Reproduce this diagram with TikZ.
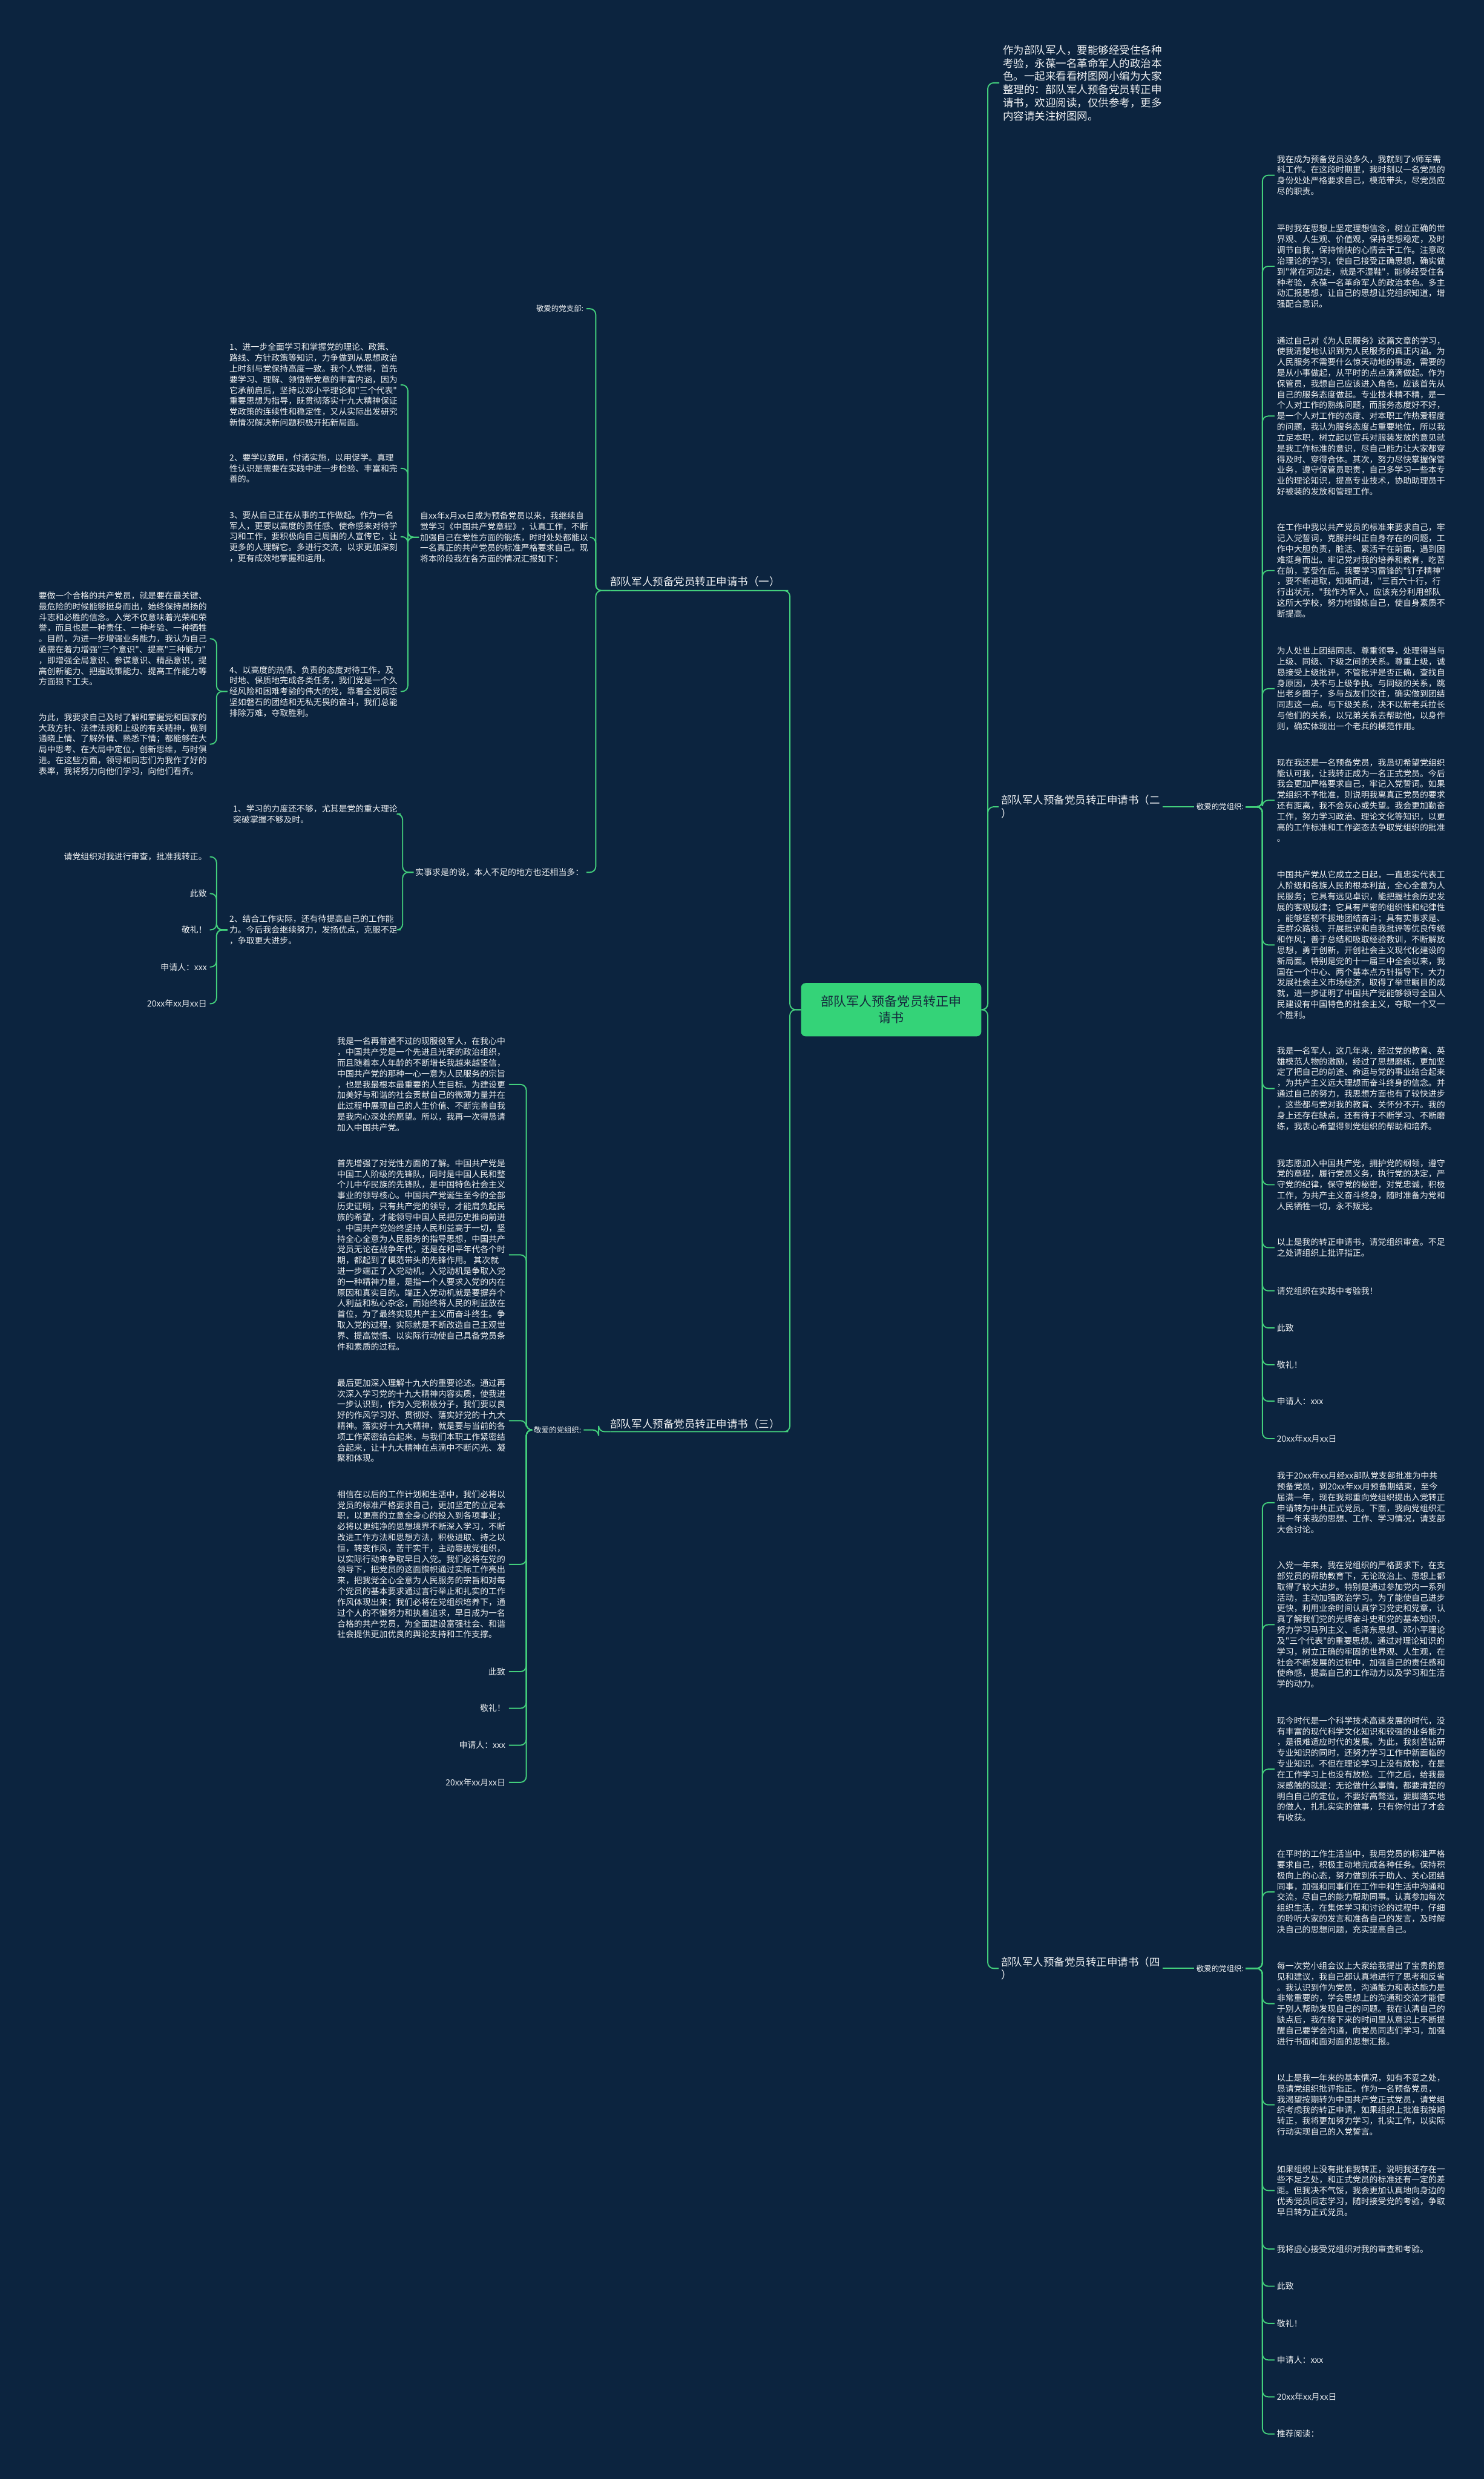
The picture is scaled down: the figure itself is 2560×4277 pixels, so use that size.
\documentclass[tikz,border=0pt]{standalone}
\usepackage{fontspec}
\newfontfamily\cjk{Noto Sans CJK SC}
\definecolor{bg}{RGB}{12,36,63}
\definecolor{ln}{RGB}{67,207,124}
\definecolor{rootfill}{RGB}{52,211,120}
\definecolor{txt}{RGB}{238,240,242}
\definecolor{roottxt}{RGB}{20,40,60}
\newcommand\leaffont{\cjk\fontsize{14.5}{18.6}\selectfont}
\newcommand\headfont{\cjk\fontsize{13}{16}\selectfont}
\newcommand\lvlfont{\cjk\fontsize{18.3}{22.7}\selectfont}
\tikzset{
  leaf/.style={inner sep=0pt, align=left, text=txt, font=\leaffont},
  lr/.style={leaf, anchor=west},
  ll/.style={leaf, anchor=east},
  headR/.style={inner sep=0pt, text=txt, font=\headfont, anchor=west},
  headL/.style={inner sep=0pt, text=txt, font=\headfont, anchor=east},
  lvl/.style={inner sep=0pt, align=left, text=txt, font=\lvlfont},
  conn/.style={draw=ln, line width=2pt, rounded corners=10pt},
}
\begin{document}
\begin{tikzpicture}[x=1pt,y=-1pt]
\fill[bg] (0,0) rectangle (2560,4277);
\useasboundingbox (0,0) rectangle (2560,4277);

% root
\node[fill=rootfill, rounded corners=8pt, minimum width=311pt, minimum height=92pt, inner sep=0pt,
  align=center, text=roottxt, font=\cjk\fontsize{22}{28}\selectfont] (root) at (1537.5,1742) {部队军人预备党员转正申\\请书};

% level 1
\node[lvl, anchor=west] (intro) at (1730,143) {作为部队军人，要能够经受住各种\\考验，永葆一名革命军人的政治本\\色。一起来看看树图网小编为大家\\整理的：部队军人预备党员转正申\\请书，欢迎阅读，仅供参考，更多\\内容请关注树图网。};
\node[lvl, anchor=west] (b2) at (1727,1392) {部队军人预备党员转正申请书（二\\）};
\node[lvl, anchor=west] (b4) at (1727,3396) {部队军人预备党员转正申请书（四\\）};
\node[lvl, anchor=east] (b1) at (1346,1003) {部队军人预备党员转正申请书（一）};
\node[lvl, anchor=east] (b3) at (1346,2457) {部队军人预备党员转正申请书（三）};
\coordinate (b1ul) at ([yshift=-16pt]b1.west);
\coordinate (b1ur) at ([yshift=-16pt,xshift=4pt]b1.east);
\coordinate (b3ul) at ([yshift=-13pt]b3.west);
\coordinate (b3ur) at ([yshift=-13pt,xshift=4pt]b3.east);

\draw[conn] (root.east) -- ++(11,0) |- ([xshift=-6pt]intro.west);
\draw[conn] (root.east) -- ++(11,0) |- ([xshift=-4pt]b2.west);
\draw[conn] (root.east) -- ++(11,0) |- ([xshift=-4pt]b4.west);
\draw[conn] (root.west) -- ++(-19,0) |- (b1ur) -- (b1ul);
\draw[conn] (root.west) -- ++(-19,0) |- (b3ur) -- (b3ul);

% ===== branch 2 =====
\node[headR] (b2h) at (2064,1392) {敬爱的党组织:};
\draw[conn] ([xshift=4pt]b2.east) -- ([xshift=-4pt]b2h.west);

\node[lr] (b2p1) at (2203,302.4) {我在成为预备党员没多久，我就到了x师军需\\科工作。在这段时期里，我时刻以一名党员的\\身份处处严格要求自己，模范带头，尽党员应\\尽的职责。};
\node[lr] (b2p2) at (2203,459.4) {平时我在思想上坚定理想信念，树立正确的世\\界观、人生观、价值观，保持思想稳定，及时\\调节自我，保持愉快的心情去干工作。注意政\\治理论的学习，使自己接受正确思想，确实做\\到"常在河边走，就是不湿鞋"，能够经受住各\\种考验，永葆一名革命军人的政治本色。多主\\动汇报思想，让自己的思想让党组织知道，增\\强配合意识。};
\node[lr] (b2p3) at (2203,717.8) {通过自己对《为人民服务》这篇文章的学习，\\使我清楚地认识到为人民服务的真正内涵。为\\人民服务不需要什么惊天动地的事迹，需要的\\是从小事做起，从平时的点点滴滴做起。作为\\保管员，我想自己应该进入角色，应该首先从\\自己的服务态度做起。专业技术精不精，是一\\个人对工作的熟练问题，而服务态度好不好，\\是一个人对工作的态度、对本职工作热爱程度\\的问题，我认为服务态度占重要地位，所以我\\立足本职，树立起以官兵对服装发放的意见就\\是我工作标准的意识，尽自己能力让大家都穿\\得及时、穿得合体。其次，努力尽快掌握保管\\业务，遵守保管员职责，自己多学习一些本专\\业的理论知识，提高专业技术，协助助理员干\\好被装的发放和管理工作。};
\node[lr] (b2p4) at (2203,984.4) {在工作中我以共产党员的标准来要求自己，牢\\记入党誓词，克服并纠正自身存在的问题，工\\作中大胆负责，脏活、累活干在前面，遇到困\\难挺身而出。牢记党对我的培养和教育，吃苦\\在前，享受在后。我要学习雷锋的"钉子精神"\\，要不断进取，知难而进，"三百六十行，行\\行出状元，"我作为军人，应该充分利用部队\\这所大学校，努力地锻炼自己，使自身素质不\\断提高。};
\node[lr] (b2p5) at (2203,1188.2) {为人处世上团结同志、尊重领导，处理得当与\\上级、同级、下级之间的关系。尊重上级，诚\\恳接受上级批评，不管批评是否正确，查找自\\身原因，决不与上级争执。与同级的关系，跳\\出老乡圈子，多与战友们交往，确实做到团结\\同志这一点。与下级关系，决不以新老兵拉长\\与他们的关系，以兄弟关系去帮助他，以身作\\则，确实体现出一个老兵的模范作用。};
\node[lr] (b2p6) at (2203,1380.7) {现在我还是一名预备党员，我恳切希望党组织\\能认可我，让我转正成为一名正式党员。今后\\我会更加严格要求自己，牢记入党誓词。如果\\党组织不予批准，则说明我离真正党员的要求\\还有距离，我不会灰心或失望。我会更加勤奋\\工作，努力学习政治、理论文化等知识，以更\\高的工作标准和工作姿态去争取党组织的批准\\。};
\node[lr] (b2p7) at (2203,1630.3) {中国共产党从它成立之日起，一直忠实代表工\\人阶级和各族人民的根本利益，全心全意为人\\民服务；它具有远见卓识，能把握社会历史发\\展的客观规律；它具有严密的组织性和纪律性\\，能够坚韧不拔地团结奋斗；具有实事求是、\\走群众路线、开展批评和自我批评等优良传统\\和作风；善于总结和吸取经验教训，不断解放\\思想，勇于创新，开创社会主义现代化建设的\\新局面。特别是党的十一届三中全会以来，我\\国在一个中心、两个基本点方针指导下，大力\\发展社会主义市场经济，取得了举世瞩目的成\\就，进一步证明了中国共产党能够领导全国人\\民建设有中国特色的社会主义，夺取一个又一\\个胜利。};
\node[lr] (b2p8) at (2203,1878) {我是一名军人，这几年来，经过党的教育、英\\雄模范人物的激励，经过了思想磨练，更加坚\\定了把自己的前途、命运与党的事业结合起来\\，为共产主义远大理想而奋斗终身的信念。并\\通过自己的努力，我思想方面也有了较快进步\\，这些都与党对我的教育、关怀分不开。我的\\身上还存在缺点，还有待于不断学习、不断磨\\练，我衷心希望得到党组织的帮助和培养。};
\node[lr] (b2p9) at (2203,2044) {我志愿加入中国共产党，拥护党的纲领，遵守\\党的章程，履行党员义务，执行党的决定，严\\守党的纪律，保守党的秘密，对党忠诚，积极\\工作，为共产主义奋斗终身，随时准备为党和\\人民牺牲一切，永不叛党。};
\node[lr] (b2p10) at (2203,2152.6) {以上是我的转正申请书，请党组织审查。不足\\之处请组织上批评指正。};
\node[lr] (b2p11) at (2203,2227) {请党组织在实践中考验我！};
\node[lr] (b2p12) at (2203,2291) {此致};
\node[lr] (b2p13) at (2203,2354.6) {敬礼！};
\node[lr] (b2p14) at (2203,2417.4) {申请人：xxx};
\node[lr] (b2p15) at (2203,2482) {20xx年xx月xx日};
\foreach \i in {1,...,15} {\draw[conn] ([xshift=3pt]b2h.east) -- ++(29,0) |- ([xshift=-4pt]b2p\i.west);}

% ===== branch 4 =====
\node[headR] (b4h) at (2064,3396) {敬爱的党组织:};
\draw[conn] ([xshift=4pt]b4.east) -- ([xshift=-4pt]b4h.west);

\node[lr] (b4p1) at (2203,2592.6) {我于20xx年xx月经xx部队党支部批准为中共\\预备党员，到20xx年xx月预备期结束，至今\\届满一年，现在我郑重向党组织提出入党转正\\申请转为中共正式党员。下面，我向党组织汇\\报一年来我的思想、工作、学习情况，请支部\\大会讨论。};
\node[lr] (b4p2) at (2203,2803) {入党一年来，我在党组织的严格要求下，在支\\部党员的帮助教育下，无论政治上、思想上都\\取得了较大进步。特别是通过参加党内一系列\\活动，主动加强政治学习。为了能使自己进步\\更快，利用业余时间认真学习党史和党章，认\\真了解我们党的光辉奋斗史和党的基本知识，\\努力学习马列主义、毛泽东思想、邓小平理论\\及"三个代表"的重要思想。通过对理论知识的\\学习，树立正确的牢固的世界观、人生观，在\\社会不断发展的过程中，加强自己的责任感和\\使命感，提高自己的工作动力以及学习和生活\\学的动力。};
\node[lr] (b4p3) at (2203,3052.3) {现今时代是一个科学技术高速发展的时代，没\\有丰富的现代科学文化知识和较强的业务能力\\，是很难适应时代的发展。为此，我刻苦钻研\\专业知识的同时，还努力学习工作中新面临的\\专业知识。不但在理论学习上没有放松，在是\\在工作学习上也没有放松。工作之后，给我最\\深感触的就是：无论做什么事情，都要清楚的\\明白自己的定位，不要好高骛远，要脚踏实地\\的做人，扎扎实实的做事，只有你付出了才会\\有收获。};
\node[lr] (b4p4) at (2203,3264) {在平时的工作生活当中，我用党员的标准严格\\要求自己，积极主动地完成各种任务。保持积\\极向上的心态，努力做到乐于助人、关心团结\\同事，加强和同事们在工作中和生活中沟通和\\交流，尽自己的能力帮助同事。认真参加每次\\组织生活，在集体学习和讨论的过程中，仔细\\的聆听大家的发言和准备自己的发言，及时解\\决自己的思想问题，充实提高自己。};
\node[lr] (b4p5) at (2203,3456.8) {每一次党小组会议上大家给我提出了宝贵的意\\见和建议，我自己都认真地进行了思考和反省\\。我认识到作为党员，沟通能力和表达能力是\\非常重要的，学会思想上的沟通和交流才能便\\于别人帮助发现自己的问题。我在认清自己的\\缺点后，我在接下来的时间里从意识上不断提\\醒自己要学会沟通，向党员同志们学习，加强\\进行书面和面对面的思想汇报。};
\node[lr] (b4p6) at (2203,3631.4) {以上是我一年来的基本情况，如有不妥之处，\\恳请党组织批评指正。作为一名预备党员，\\我渴望按期转为中国共产党正式党员，请党组\\织考虑我的转正申请，如果组织上批准我按期\\转正，我将更加努力学习，扎实工作，以实际\\行动实现自己的入党誓言。};
\node[lr] (b4p7) at (2203,3779.3) {如果组织上没有批准我转正，说明我还存在一\\些不足之处，和正式党员的标准还有一定的差\\距。但我决不气馁，我会更加认真地向身边的\\优秀党员同志学习，随时接受党的考验，争取\\早日转为正式党员。};
\node[lr] (b4p8) at (2203,3880) {我将虚心接受党组织对我的审查和考验。};
\node[lr] (b4p9) at (2203,3944.4) {此致};
\node[lr] (b4p10) at (2203,4008.4) {敬礼！};
\node[lr] (b4p11) at (2203,4071.6) {申请人：xxx};
\node[lr] (b4p12) at (2203,4135.3) {20xx年xx月xx日};
\node[lr] (b4p13) at (2203,4199.3) {推荐阅读：};
\foreach \i in {1,...,13} {\draw[conn] ([xshift=3pt]b4h.east) -- ++(29,0) |- ([xshift=-4pt]b4p\i.west);}

% ===== branch 1 =====
\node[headL] (b1a) at (1007,532.7) {敬爱的党支部:};
\node[ll] (b1b) at (1015,927) {自xx年x月xx日成为预备党员以来，我继续自\\觉学习《中国共产党章程》，认真工作，不断\\加强自己在党性方面的锻炼，时时处处都能以\\一名真正的共产党员的标准严格要求自己。现\\将本阶段我在各方面的情况汇报如下：};
\node[ll] (b1c) at (1007,1505) {实事求是的说，本人不足的地方也还相当多：};
\foreach \n in {b1a,b1b,b1c} {\draw[conn] (b1ul) -- ++(-25,0) |- ([xshift=5pt]\n.east);}

\node[ll] (b1b1) at (686,664) {1、进一步全面学习和掌握党的理论、政策、\\路线、方针政策等知识，力争做到从思想政治\\上时刻与党保持高度一致。我个人觉得，首先\\要学习、理解、领悟新党章的丰富内涵，因为\\它承前启后，坚持以邓小平理论和"三个代表"\\重要思想为指导，既贯彻落实十九大精神保证\\党政策的连续性和稳定性，又从实际出发研究\\新情况解决新问题积极开拓新局面。};
\node[ll] (b1b2) at (686,808) {2、要学以致用，付诸实施，以用促学。真理\\性认识是需要在实践中进一步检验、丰富和完\\善的。};
\node[ll] (b1b3) at (686,926) {3、要从自己正在从事的工作做起。作为一名\\军人，更要以高度的责任感、使命感来对待学\\习和工作，要积极向自己周围的人宣传它，让\\更多的人理解它。多进行交流，以求更加深刻\\，更有成效地掌握和运用。};
\node[ll] (b1b4) at (686,1193) {4、以高度的热情、负责的态度对待工作，及\\时地、保质地完成各类任务，我们党是一个久\\经风险和困难考验的伟大的党，靠着全党同志\\坚如磐石的团结和无私无畏的奋斗，我们总能\\排除万难，夺取胜利。};
\foreach \n in {b1b1,b1b2,b1b3,b1b4} {\draw[conn] ([xshift=-2pt]b1b.west) -- ++(-19,0) |- ([xshift=5pt]\n.east);}

\node[ll] (b1b4a) at (357,1102) {要做一个合格的共产党员，就是要在最关键、\\最危险的时候能够挺身而出，始终保持昂扬的\\斗志和必胜的信念。入党不仅意味着光荣和荣\\誉，而且也是一种责任、一种考验、一种牺牲\\。目前，为进一步增强业务能力，我认为自己\\亟需在着力增强"三个意识"、提高"三种能力"\\，即增强全局意识、参谋意识、精品意识，提\\高创新能力、把握政策能力、提高工作能力等\\方面狠下工夫。};
\node[ll] (b1b4b) at (357,1284) {为此，我要求自己及时了解和掌握党和国家的\\大政方针、法律法规和上级的有关精神，做到\\通晓上情、了解外情、熟悉下情；都能够在大\\局中思考、在大局中定位，创新思维，与时俱\\进。在这些方面，领导和同志们为我作了好的\\表率，我将努力向他们学习，向他们看齐。};
\foreach \n in {b1b4a,b1b4b} {\draw[conn] ([xshift=-3pt]b1b4.west) -- ++(-19,0) |- ([xshift=5pt]\n.east);}

\node[ll] (b1c1) at (686,1404.3) {1、学习的力度还不够，尤其是党的重大理论\\突破掌握不够及时。};
\node[ll] (b1c2) at (686,1604.3) {2、结合工作实际，还有待提高自己的工作能\\力。今后我会继续努力，发扬优点，克服不足\\，争取更大进步。};
\foreach \n in {b1c1,b1c2} {\draw[conn] ([xshift=-3pt]b1c.west) -- ++(-19,0) |- ([xshift=5pt]\n.east);}

\node[ll] (b1c2a) at (357,1478.3) {请党组织对我进行审查，批准我转正。};
\node[ll] (b1c2b) at (357,1541.7) {此致};
\node[ll] (b1c2c) at (357,1604.3) {敬礼！};
\node[ll] (b1c2d) at (357,1668.3) {申请人：xxx};
\node[ll] (b1c2e) at (357,1731.7) {20xx年xx月xx日};
\foreach \n in {b1c2a,b1c2b,b1c2c,b1c2d,b1c2e} {\draw[conn] ([xshift=-3pt]b1c2.west) -- ++(-19,0) |- ([xshift=5pt]\n.east);}

% ===== branch 3 =====
\node[headL] (b3h) at (1003,2467) {敬爱的党组织:};
\draw[conn] (b3ul) -- ++(-20,0) |- ([xshift=4pt]b3h.east);

\node[ll] (b3p1) at (872,1871) {我是一名再普通不过的现服役军人，在我心中\\，中国共产党是一个先进且光荣的政治组织，\\而且随着本人年龄的不断增长我越来越坚信，\\中国共产党的那种一心一意为人民服务的宗旨\\，也是我最根本最重要的人生目标。为建设更\\加美好与和谐的社会贡献自己的微薄力量并在\\此过程中展现自己的人生价值、不断完善自我\\是我内心深处的愿望。所以，我再一次得恳请\\加入中国共产党。};
\node[ll] (b3p2) at (872,2165) {首先增强了对党性方面的了解。中国共产党是\\中国工人阶级的先锋队，同时是中国人民和整\\个儿中华民族的先锋队，是中国特色社会主义\\事业的领导核心。中国共产党诞生至今的全部\\历史证明，只有共产党的领导，才能肩负起民\\族的希望，才能领导中国人民把历史推向前进\\。中国共产党始终坚持人民利益高于一切，坚\\持全心全意为人民服务的指导思想，中国共产\\党员无论在战争年代，还是在和平年代各个时\\期，都起到了模范带头的先锋作用。 其次就\\进一步端正了入党动机。入党动机是争取入党\\的一种精神力量，是指一个人要求入党的内在\\原因和真实目的。端正入党动机就是要摒弃个\\人利益和私心杂念，而始终将人民的利益放在\\首位，为了最终实现共产主义而奋斗终生。争\\取入党的过程，实际就是不断改造自己主观世\\界、提高觉悟、以实际行动使自己具备党员条\\件和素质的过程。};
\node[ll] (b3p3) at (872,2451) {最后更加深入理解十九大的重要论述。通过再\\次深入学习党的十九大精神内容实质，使我进\\一步认识到，作为入党积极分子，我们要以良\\好的作风学习好、贯彻好、落实好党的十九大\\精神。落实好十九大精神，就是要与当前的各\\项工作紧密结合起来，与我们本职工作紧密结\\合起来，让十九大精神在点滴中不断闪光、凝\\聚和体现。};
\node[ll] (b3p4) at (872,2699) {相信在以后的工作计划和生活中，我们必将以\\党员的标准严格要求自己，更加坚定的立足本\\职，以更高的立意全身心的投入到各项事业；\\必将以更纯净的思想境界不断深入学习，不断\\改进工作方法和思想方法，积极进取、持之以\\恒，转变作风，苦干实干，主动靠拢党组织，\\以实际行动来争取早日入党。我们必将在党的\\领导下，把党员的这面旗帜通过实际工作亮出\\来，把我党全心全意为人民服务的宗旨和对每\\个党员的基本要求通过言行举止和扎实的工作\\作风体现出来；我们必将在党组织培养下，通\\过个人的不懈努力和执着追求，早日成为一名\\合格的共产党员，为全面建设富强社会、和谐\\社会提供更加优良的舆论支持和工作支撑。};
\node[ll] (b3p5) at (872,2884) {此致};
\node[ll] (b3p6) at (872,2947.3) {敬礼！};
\node[ll] (b3p7) at (872,3011) {申请人：xxx};
\node[ll] (b3p8) at (872,3075) {20xx年xx月xx日};
\foreach \i in {1,...,8} {\draw[conn] ([xshift=-3pt]b3h.west) -- ++(-10,0) |- ([xshift=6pt]b3p\i.east);}

\end{tikzpicture}
\end{document}
